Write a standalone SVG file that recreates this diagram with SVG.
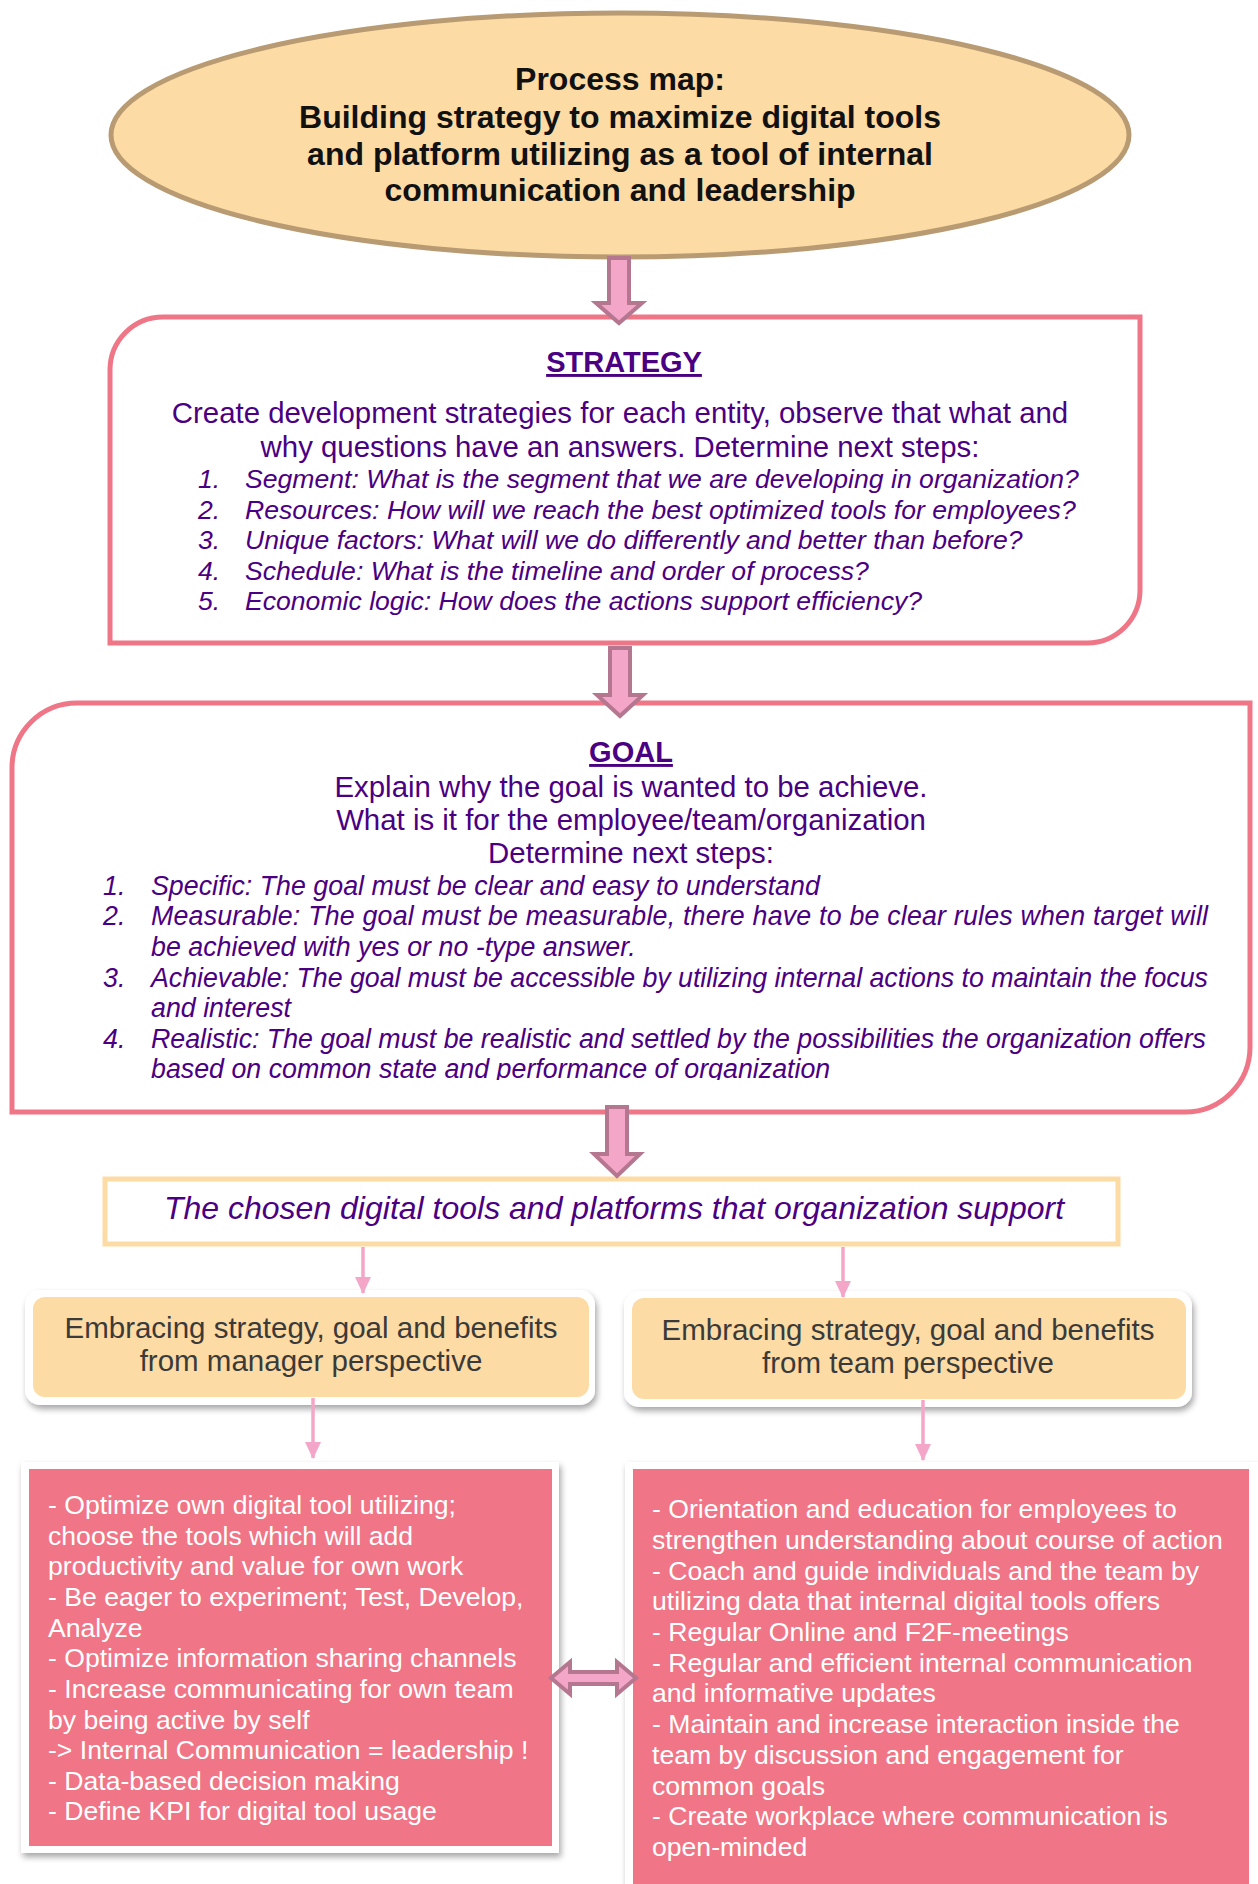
<svg xmlns="http://www.w3.org/2000/svg" width="1258" height="1884" viewBox="0 0 1258 1884">
<style>
text{font-family:"Liberation Sans",Arial,sans-serif}
.title{font-size:32px;font-weight:bold;fill:#111;text-anchor:middle}
.head{font-size:29px;font-weight:bold;fill:#4B0082;text-anchor:middle;text-decoration:underline}
.intro{font-size:29.4px;fill:#4B0082;text-anchor:middle}
.li{font-size:26.6px;font-style:italic;fill:#4B0082}
.gl{font-size:26.8px;font-style:italic;fill:#4B0082}
.chosen{font-size:32px;font-style:italic;fill:#4B0082;text-anchor:middle}
.emb{font-size:29.5px;fill:#3a3a3a;text-anchor:middle}
.wt{font-size:26.6px;fill:#ffffff}
.box{fill:#ffffff;stroke:#EF7686;stroke-width:5}
.blk{fill:#F4A6C8;stroke:#B5778F;stroke-width:4;stroke-linejoin:miter}
.thin{stroke:#F4A6C8;stroke-width:3.5;fill:none}
</style>
<defs>
<filter id="sh" x="-10%" y="-10%" width="120%" height="130%">
<feDropShadow dx="2" dy="4" stdDeviation="3" flood-color="#000" flood-opacity="0.35"/>
</filter>
<marker id="ah" markerUnits="userSpaceOnUse" markerWidth="18" markerHeight="18" viewBox="0 0 18 18" refX="16" refY="9" orient="auto">
<path d="M0,1 L17,9 L0,17 Z" fill="#F4A6C8"/>
</marker>
<clipPath id="gclip"><rect x="0" y="700" width="1258" height="380"/></clipPath>
</defs>

<g id="title-node">
<ellipse cx="620" cy="135" rx="509" ry="122" fill="#FDDBA4" stroke="#B89B72" stroke-width="5"/>
<text class="title" x="620" y="90">Process map:</text>
<text class="title" x="620" y="128">Building strategy to maximize digital tools</text>
<text class="title" x="620" y="165">and platform utilizing as a tool of internal</text>
<text class="title" x="620" y="201">communication and leadership</text>
</g>

<g id="strategy-node">
<path class="box" d="M163,317 H1140 V590 A53,53 0 0 1 1087,643 H110 V370 A53,53 0 0 1 163,317 Z"/>
<text class="head" x="624" y="372">STRATEGY</text>
<text class="intro" x="620" y="423">Create development strategies for each entity, observe that what and</text>
<text class="intro" x="620" y="457">why questions have an answers. Determine next steps:</text>
<text class="li" x="198" y="488">1.</text><text class="li" x="245" y="488">Segment: What is the segment that we are developing in organization?</text>
<text class="li" x="198" y="519">2.</text><text class="li" x="245" y="519">Resources: How will we reach the best optimized tools for employees?</text>
<text class="li" x="198" y="549">3.</text><text class="li" x="245" y="549">Unique factors: What will we do differently and better than before?</text>
<text class="li" x="198" y="580">4.</text><text class="li" x="245" y="580">Schedule: What is the timeline and order of process?</text>
<text class="li" x="198" y="610">5.</text><text class="li" x="245" y="610">Economic logic: How does the actions support efficiency?</text>
</g>

<g id="goal-node">
<path class="box" d="M77,703 H1250 V1047 A65,65 0 0 1 1185,1112 H12 V768 A65,65 0 0 1 77,703 Z"/>
<text class="head" x="631" y="762">GOAL</text>
<text class="intro" x="631" y="797">Explain why the goal is wanted to be achieve.</text>
<text class="intro" x="631" y="830">What is it for the employee/team/organization</text>
<text class="intro" x="631" y="863">Determine next steps:</text>
<g clip-path="url(#gclip)">
<text class="gl" x="103" y="895">1.</text><text class="gl" x="151" y="895">Specific: The goal must be clear and easy to understand</text>
<text class="gl" x="103" y="925">2.</text><text class="gl" x="151" y="925" textLength="1057" lengthAdjust="spacing">Measurable: The goal must be measurable, there have to be clear rules when target will</text>
<text class="gl" x="151" y="956">be achieved with yes or no -type answer.</text>
<text class="gl" x="103" y="987">3.</text><text class="gl" x="151" y="987" textLength="1057" lengthAdjust="spacing">Achievable: The goal must be accessible by utilizing internal actions to maintain the focus</text>
<text class="gl" x="151" y="1017">and interest</text>
<text class="gl" x="103" y="1048">4.</text><text class="gl" x="151" y="1048" textLength="1055" lengthAdjust="spacing">Realistic: The goal must be realistic and settled by the possibilities the organization offers</text>
<text class="gl" x="151" y="1078">based on common state and performance of organization</text>
</g>
</g>

<g id="tools-node">
<rect x="105" y="1179" width="1013" height="65" fill="#ffffff" stroke="#FDDBA4" stroke-width="5"/>
<text class="chosen" x="614" y="1219">The chosen digital tools and platforms that organization support</text>
</g>

<g id="manager-node">
<rect x="25" y="1290" width="570" height="115" rx="15" fill="#ffffff" filter="url(#sh)"/>
<rect x="33" y="1297" width="556" height="100" rx="12" fill="#FDDBA4"/>
<text class="emb" x="311" y="1338">Embracing strategy, goal and benefits</text>
<text class="emb" x="311" y="1371">from manager perspective</text>
</g>

<g id="team-node">
<rect x="624" y="1291" width="568" height="116" rx="15" fill="#ffffff" filter="url(#sh)"/>
<rect x="632" y="1298" width="554" height="101" rx="12" fill="#FDDBA4"/>
<text class="emb" x="908" y="1340">Embracing strategy, goal and benefits</text>
<text class="emb" x="908" y="1373">from team perspective</text>
</g>

<g id="manager-list-node">
<rect x="21" y="1462" width="538" height="391" fill="#ffffff" filter="url(#sh)"/>
<rect x="29" y="1469" width="523" height="377" fill="#F07586"/>
<text class="wt" x="48" y="1514">- Optimize own digital tool utilizing;</text>
<text class="wt" x="48" y="1545">choose the tools which will add</text>
<text class="wt" x="48" y="1575">productivity and value for own work</text>
<text class="wt" x="48" y="1606">- Be eager to experiment; Test, Develop,</text>
<text class="wt" x="48" y="1637">Analyze</text>
<text class="wt" x="48" y="1667">- Optimize information sharing channels</text>
<text class="wt" x="48" y="1698">- Increase communicating for own team</text>
<text class="wt" x="48" y="1729">by being active by self</text>
<text class="wt" x="48" y="1759">-&gt; Internal Communication = leadership !</text>
<text class="wt" x="48" y="1790">- Data-based decision making</text>
<text class="wt" x="48" y="1820">- Define KPI for digital tool usage</text>
</g>

<g id="team-list-node">
<rect x="625" y="1462" width="640" height="430" fill="#ffffff" filter="url(#sh)"/>
<rect x="633" y="1469" width="616" height="420" fill="#F07586"/>
<text class="wt" x="652" y="1518">- Orientation and education for employees to</text>
<text class="wt" x="652" y="1549">strengthen understanding about course of action</text>
<text class="wt" x="652" y="1580">- Coach and guide individuals and the team by</text>
<text class="wt" x="652" y="1610">utilizing data that internal digital tools offers</text>
<text class="wt" x="652" y="1641">- Regular Online and F2F-meetings</text>
<text class="wt" x="652" y="1672">- Regular and efficient internal communication</text>
<text class="wt" x="652" y="1702">and informative updates</text>
<text class="wt" x="652" y="1733">- Maintain and increase interaction inside the</text>
<text class="wt" x="652" y="1764">team by discussion and engagement for</text>
<text class="wt" x="652" y="1795">common goals</text>
<text class="wt" x="652" y="1825">- Create workplace where communication is</text>
<text class="wt" x="652" y="1856">open-minded</text>
</g>

<g id="connectors">
<polygon class="blk" points="609,258 629,258 629,303 642,303 619,323 596,303 609,303"/>
<polygon class="blk" points="610,648 630,648 630,695 643,695 620,716 597,695 610,695"/>
<polygon class="blk" points="607,1107 627,1107 627,1154 640,1154 617,1176 594,1154 607,1154"/>
<line class="thin" x1="363" y1="1247" x2="363" y2="1293" marker-end="url(#ah)"/>
<line class="thin" x1="843" y1="1247" x2="843" y2="1297" marker-end="url(#ah)"/>
<line class="thin" x1="313" y1="1398" x2="313" y2="1458" marker-end="url(#ah)"/>
<line class="thin" x1="923" y1="1400" x2="923" y2="1460" marker-end="url(#ah)"/>
<polygon class="blk" points="551,1678 570,1662 570,1672 617,1672 617,1662 636,1678 617,1694 617,1684 570,1684 570,1694"/>
</g>
</svg>
